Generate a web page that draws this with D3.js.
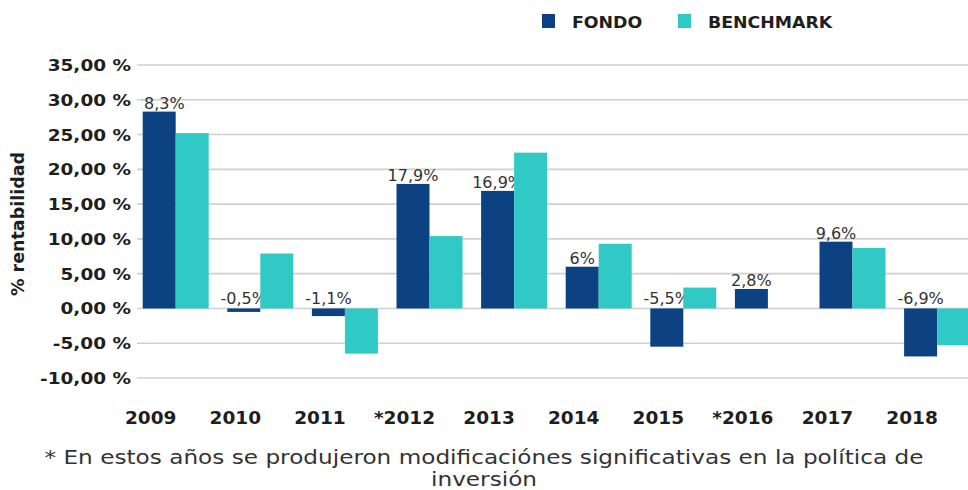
<!DOCTYPE html>
<html>
<head>
<meta charset="utf-8">
<script src="https://cdn.jsdelivr.net/npm/d3@7/dist/d3.min.js"></script>
<style>
  body { margin: 0; background: #fff; }
  svg { display: block; font-family: "DejaVu Sans", Verdana, sans-serif; }
</style>
</head>
<body>
<svg id="chart"></svg>
<script>
// datos
const years = ["2009", "2010", "2011", "*2012", "2013", "2014", "2015", "*2016", "2017", "2018"];
const fondo = [28.3, -0.5, -1.1, 17.9, 16.9, 6, -5.5, 2.8, 9.6, -6.9];
const benchmark = [25.2, 7.9, -6.5, 10.4, 22.4, 9.3, 3.0, 0, 8.7, -5.3];
const yTicks = [-10, -5, 0, 5, 10, 15, 20, 25, 30, 35];
const seriesNames = ["FONDO", "BENCHMARK"];
const colors = ["#0c4282", "#31c9c6"];

const width = 968, height = 490;
const svg = d3.select("#chart").attr("width", width).attr("height", height);

const x = d3.scaleBand()
  .domain(years)
  .range([133.4, 979.4])
  .paddingInner(0.22)
  .paddingOuter(0.11);
const xSub = d3.scaleBand()
  .domain(seriesNames)
  .range([0, x.bandwidth()]);
const y = d3.scaleLinear().domain([-10, 35]).range([378, 65]);

// rejilla
svg.append("g")
  .selectAll("line")
  .data(yTicks)
  .join("line")
  .attr("x1", 137).attr("x2", width)
  .attr("y1", d => y(d)).attr("y2", d => y(d))
  .attr("stroke", "#d0d0d0")
  .attr("stroke-width", 1.6);

// etiquetas eje y (texto algo ensanchado como en la imagen)
svg.append("g")
  .selectAll("text")
  .data(yTicks)
  .join("text")
  .attr("transform", d => `translate(131,${y(d)}) scale(1.12,1)`)
  .attr("dy", "0.36em")
  .attr("text-anchor", "end")
  .attr("font-size", 16.5)
  .attr("font-weight", "bold")
  .attr("fill", "#1e1e1e")
  .text(d => d.toFixed(2).replace(".", ",") + " %");

svg.append("text")
  .attr("transform", "translate(24,224) rotate(-90)")
  .attr("text-anchor", "middle")
  .attr("font-size", 17.5)
  .attr("font-weight", "bold")
  .attr("fill", "#1e1e1e")
  .text("% rentabilidad");

const rows = years.map((yr, i) => ({ year: yr, fondo: fondo[i], bench: benchmark[i] }));

// barras fondo
svg.append("g")
  .selectAll("rect")
  .data(rows)
  .join("rect")
  .attr("x", d => x(d.year) + xSub("FONDO"))
  .attr("width", xSub.bandwidth())
  .attr("y", d => y(Math.max(0, d.fondo)))
  .attr("height", d => Math.abs(y(d.fondo) - y(0)))
  .attr("fill", colors[0]);

// etiquetas de valor (debajo de las barras benchmark)
svg.append("clipPath").attr("id", "clipLab")
  .append("rect").attr("x", 142.5).attr("y", 0).attr("width", width).attr("height", height);

svg.append("g")
  .attr("clip-path", "url(#clipLab)")
  .selectAll("text")
  .data(rows)
  .join("text")
  .attr("x", d => x(d.year) + xSub("FONDO") + xSub.bandwidth() / 2)
  .attr("y", d => d.fondo >= 0 ? y(d.fondo) - 3 : y(0) - 4)
  .attr("text-anchor", "middle")
  .attr("font-size", 16)
  .attr("fill", "#333")
  .text(d => String(d.fondo).replace(".", ",") + "%");

// barras benchmark
svg.append("g")
  .selectAll("rect")
  .data(rows.filter(d => d.bench !== 0))
  .join("rect")
  .attr("x", d => x(d.year) + xSub("BENCHMARK"))
  .attr("width", xSub.bandwidth())
  .attr("y", d => y(Math.max(0, d.bench)))
  .attr("height", d => Math.abs(y(d.bench) - y(0)))
  .attr("fill", colors[1]);

// eje x
svg.append("g")
  .selectAll("text")
  .data(years)
  .join("text")
  .attr("x", d => x(d) + x.bandwidth() / 2 - 25)
  .attr("y", 424)
  .attr("text-anchor", "middle")
  .attr("font-size", 18.5)
  .attr("font-weight", "bold")
  .attr("fill", "#1e1e1e")
  .text(d => d);

// leyenda
const legendX = [542, 678];
const legend = svg.append("g")
  .selectAll("g")
  .data(seriesNames)
  .join("g")
  .attr("transform", (d, i) => `translate(${legendX[i]},14)`);
legend.append("rect")
  .attr("width", 13).attr("height", 14)
  .attr("fill", (d, i) => colors[i]);
legend.append("text")
  .attr("transform", "translate(30,13.5) scale(1.12,1)")
  .attr("font-size", 15.5)
  .attr("font-weight", "bold")
  .attr("fill", "#1e1e1e")
  .text(d => d);

// nota al pie
const note = svg.append("text")
  .attr("transform", "translate(484,0) scale(1.22,1)")
  .attr("text-anchor", "middle")
  .attr("font-size", 19)
  .attr("fill", "#333");
note.append("tspan").attr("x", 0).attr("y", 464)
  .text("* En estos años se produjeron modificaciónes significativas en la política de");
note.append("tspan").attr("x", 0).attr("y", 486)
  .text("inversión");
</script>
</body>
</html>
